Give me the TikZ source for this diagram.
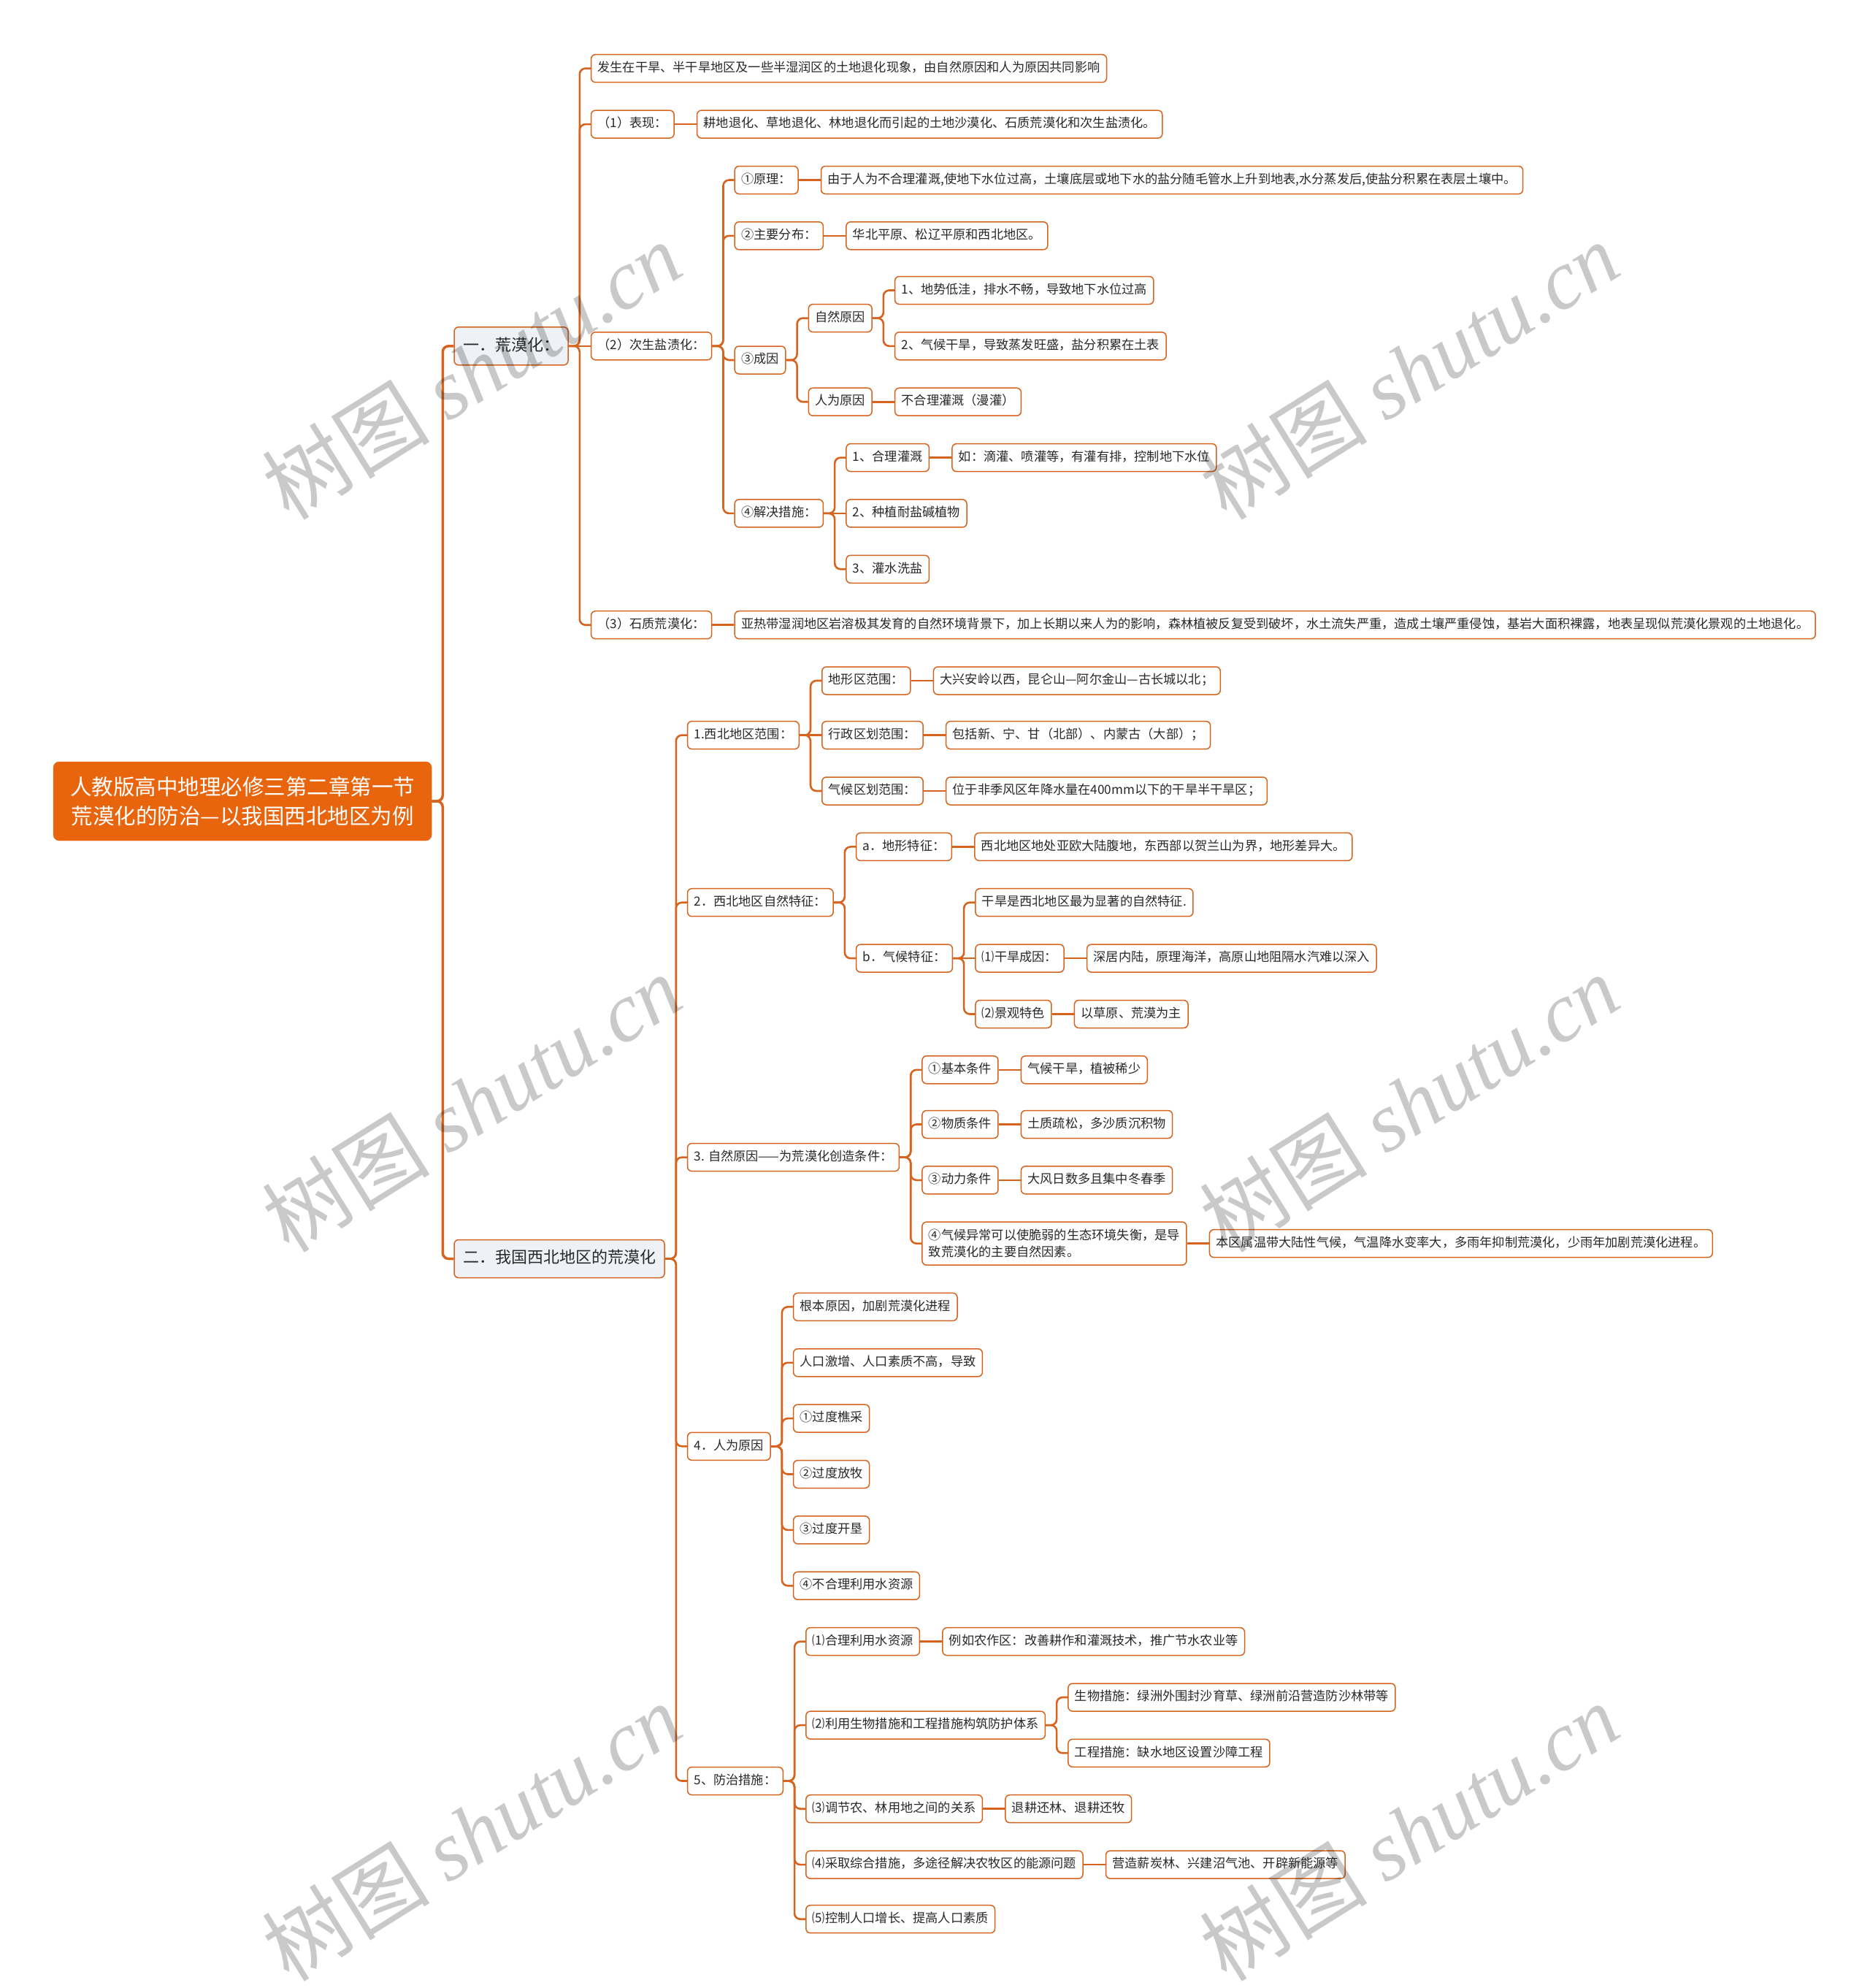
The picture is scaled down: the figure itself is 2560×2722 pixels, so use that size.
\documentclass[tikz,border=0pt]{standalone}
\usepackage{fontspec}
\setmainfont{Noto Sans CJK SC}
\newfontfamily\wmserif{Liberation Serif}
\definecolor{lineC}{RGB}{214,100,30}
\definecolor{rootC}{RGB}{232,101,14}
\definecolor{lvlC}{RGB}{238,241,246}
\definecolor{txtC}{RGB}{40,40,40}
\tikzset{
  basebox/.style={draw=lineC, line width=1.5pt, rounded corners=6pt, fill=white, text=txtC,
    font=\fontsize{17.2}{23}\selectfont, inner xsep=9pt, inner ysep=4pt, minimum height=38pt},
  sbox/.style={basebox, text height=13pt, text depth=3.5pt},
  lvl/.style={basebox, fill=lvlC, font=\fontsize{22}{26}\selectfont, inner xsep=12pt,
    minimum height=52pt, text height=17pt, text depth=4.5pt},
  rootbox/.style={fill=rootC, draw=rootC, rounded corners=8pt, text=white, align=center,
    font=\fontsize{29.5}{40}\selectfont, inner xsep=23pt, minimum height=108pt, anchor=west},
  conn/.style={draw=lineC, line width=2.6pt, rounded corners=8pt},
  connR/.style={conn, line width=3.5pt},
  wm/.style={text=black, text opacity=0.21, font=\fontsize{115}{115}\selectfont, rotate=32, inner sep=0pt}
}
\newcommand\mmkid[5][sbox]{%
  \path ([xshift=30pt]#3.east) coordinate (t#2);
  \node[#1, anchor=west] (#2) at (t#2 |- 0,#4) {#5};}
\newcommand\mmlink[3][conn]{\draw[#1] (#2.east) -- ++(15,0) |- (#3.west);}
\newcommand\mmstraight[3][conn]{\draw[#1] (#2.east) -- (#3.west);}
\begin{document}
\begin{tikzpicture}[x=1pt,y=-1pt]
\fill[white] (0,0) rectangle (2560,2722);
\useasboundingbox (0,0) rectangle (2560,2722);

\node[rootbox] (R) at (72.9,1097) {人教版高中地理必修三第二章第一节\\荒漠化的防治—以我国西北地区为例};

\mmkid[lvl]{L1}{R}{473.8}{一．荒漠化：}
\mmkid[lvl]{L2}{R}{1723.5}{二．我国西北地区的荒漠化}

% ---- section one
\mmkid{A1}{L1}{93.7}{发生在干旱、半干旱地区及一些半湿润区的土地退化现象，由自然原因和人为原因共同影响}
\mmkid{A2}{L1}{170.1}{（1）表现：}
\mmkid{A2a}{A2}{170.1}{耕地退化、草地退化、林地退化而引起的土地沙漠化、石质荒漠化和次生盐渍化。}
\mmkid{A3}{L1}{473.8}{（2）次生盐渍化：}
\mmkid{A4}{L1}{855.7}{（3）石质荒漠化：}
\mmkid{A4a}{A4}{855.7}{亚热带湿润地区岩溶极其发育的自然环境背景下，加上长期以来人为的影响，森林植被反复受到破坏，水土流失严重，造成土壤严重侵蚀，基岩大面积裸露，地表呈现似荒漠化景观的土地退化。}
\mmkid{B1}{A3}{246.5}{①原理：}
\mmkid{B1a}{B1}{246.5}{由于人为不合理灌溉,使地下水位过高，土壤底层或地下水的盐分随毛管水上升到地表,水分蒸发后,使盐分积累在表层土壤中。}
\mmkid{B2}{A3}{322.8}{②主要分布：}
\mmkid{B2a}{B2}{322.8}{华北平原、松辽平原和西北地区。}
\mmkid{B3}{A3}{493}{③成因}
\mmkid{B3a}{B3}{435.6}{自然原因}
\mmkid{B3b}{B3}{550.2}{人为原因}
\mmkid{B3a1}{B3a}{397.5}{1、地势低洼，排水不畅，导致地下水位过高}
\mmkid{B3a2}{B3a}{473.8}{2、气候干旱，导致蒸发旺盛，盐分积累在土表}
\mmkid{B3b1}{B3b}{550.2}{不合理灌溉（漫灌）}
\mmkid{B4}{A3}{702.9}{④解决措施：}
\mmkid{D1}{B4}{626.6}{1、合理灌溉}
\mmkid{D1a}{D1}{626.6}{如：滴灌、喷灌等，有灌有排，控制地下水位}
\mmkid{D2}{B4}{702.9}{2、种植耐盐碱植物}
\mmkid{D3}{B4}{779.3}{3、灌水洗盐}

% ---- section two
\mmkid{C1}{L2}{1006.6}{1.西北地区范围：}
\mmkid{E1}{C1}{932.0}{地形区范围：}
\mmkid{E1a}{E1}{932.0}{大兴安岭以西，昆仑山—阿尔金山—古长城以北；}
\mmkid{E2}{C1}{1006.6}{行政区划范围：}
\mmkid{E2a}{E2}{1006.6}{包括新、宁、甘（北部）、内蒙古（大部）；}
\mmkid{E3}{C1}{1083.0}{气候区划范围：}
\mmkid{E3a}{E3}{1083.0}{位于非季风区年降水量在400mm以下的干旱半干旱区；}

\mmkid{C2}{L2}{1235.7}{2．西北地区自然特征：}
\mmkid{Fa}{C2}{1159.4}{a．地形特征：}
\mmkid{Faa}{Fa}{1159.4}{西北地区地处亚欧大陆腹地，东西部以贺兰山为界，地形差异大。}
\mmkid{Fb}{C2}{1312.1}{b．气候特征：}
\mmkid{Fb1}{Fb}{1235.7}{干旱是西北地区最为显著的自然特征.}
\mmkid{Fb2}{Fb}{1312.1}{⑴干旱成因：}
\mmkid{Fb2a}{Fb2}{1312.1}{深居内陆，原理海洋，高原山地阻隔水汽难以深入}
\mmkid{Fb3}{Fb}{1388.5}{⑵景观特色}
\mmkid{Fb3a}{Fb3}{1388.5}{以草原、荒漠为主}

\mmkid{C3}{L2}{1584.6}{3. 自然原因——为荒漠化创造条件：}
\mmkid{G1}{C3}{1464.8}{①基本条件}
\mmkid{G1a}{G1}{1464.8}{气候干旱，植被稀少}
\mmkid{G2}{C3}{1539.5}{②物质条件}
\mmkid{G2a}{G2}{1539.5}{土质疏松，多沙质沉积物}
\mmkid{G3}{C3}{1615.8}{③动力条件}
\mmkid{G3a}{G3}{1615.8}{大风日数多且集中冬春季}
\mmkid[basebox, align=left, inner ysep=10pt]{G4}{C3}{1702.6}{④气候异常可以使脆弱的生态环境失衡，是导\\致荒漠化的主要自然因素。}
\mmkid{G4a}{G4}{1702.6}{本区属温带大陆性气候，气温降水变率大，多雨年抑制荒漠化，少雨年加剧荒漠化进程。}

\mmkid{C4}{L2}{1980.3}{4．人为原因}
\mmkid{H1}{C4}{1789.4}{根本原因，加剧荒漠化进程}
\mmkid{H2}{C4}{1865.8}{人口激增、人口素质不高，导致}
\mmkid{H3}{C4}{1942.1}{①过度樵采}
\mmkid{H4}{C4}{2018.5}{②过度放牧}
\mmkid{H5}{C4}{2094.9}{③过度开垦}
\mmkid{H6}{C4}{2171.2}{④不合理利用水资源}

\mmkid{C5}{L2}{2438.5}{5、防治措施：}
\mmkid{K1}{C5}{2247.6}{⑴合理利用水资源}
\mmkid{K1a}{K1}{2247.6}{例如农作区：改善耕作和灌溉技术，推广节水农业等}
\mmkid{K2}{C5}{2362.1}{⑵利用生物措施和工程措施构筑防护体系}
\mmkid{K2a}{K2}{2324.0}{生物措施：绿洲外围封沙育草、绿洲前沿营造防沙林带等}
\mmkid{K2b}{K2}{2400.3}{工程措施：缺水地区设置沙障工程}
\mmkid{K3}{C5}{2476.7}{⑶调节农、林用地之间的关系}
\mmkid{K3a}{K3}{2476.7}{退耕还林、退耕还牧}
\mmkid{K4}{C5}{2553.1}{⑷采取综合措施，多途径解决农牧区的能源问题}
\mmkid{K4a}{K4}{2553.1}{营造薪炭林、兴建沼气池、开辟新能源等}
\mmkid{K5}{C5}{2627.7}{⑸控制人口增长、提高人口素质}

% ---- connectors
\mmlink[connR]{R}{L1} \mmlink[connR]{R}{L2}
\mmlink{L1}{A1} \mmlink{L1}{A2} \mmstraight{L1}{A3} \mmlink{L1}{A4}
\mmstraight{A2}{A2a} \mmstraight{A4}{A4a}
\mmlink{A3}{B1} \mmlink{A3}{B2} \mmlink{A3}{B3} \mmlink{A3}{B4}
\mmstraight{B1}{B1a} \mmstraight{B2}{B2a}
\mmlink{B3}{B3a} \mmlink{B3}{B3b}
\mmlink{B3a}{B3a1} \mmlink{B3a}{B3a2} \mmstraight{B3b}{B3b1}
\mmlink{B4}{D1} \mmstraight{B4}{D2} \mmlink{B4}{D3} \mmstraight{D1}{D1a}

\mmlink{L2}{C1} \mmlink{L2}{C2} \mmlink{L2}{C3} \mmlink{L2}{C4} \mmlink{L2}{C5}
\mmlink{C1}{E1} \mmstraight{C1}{E2} \mmlink{C1}{E3}
\mmstraight{E1}{E1a} \mmstraight{E2}{E2a} \mmstraight{E3}{E3a}
\mmlink{C2}{Fa} \mmlink{C2}{Fb} \mmstraight{Fa}{Faa}
\mmlink{Fb}{Fb1} \mmstraight{Fb}{Fb2} \mmlink{Fb}{Fb3}
\mmstraight{Fb2}{Fb2a} \mmstraight{Fb3}{Fb3a}
\mmlink{C3}{G1} \mmlink{C3}{G2} \mmlink{C3}{G3} \mmlink{C3}{G4}
\mmstraight{G1}{G1a} \mmstraight{G2}{G2a} \mmstraight{G3}{G3a} \mmstraight{G4}{G4a}
\mmlink{C4}{H1} \mmlink{C4}{H2} \mmlink{C4}{H3} \mmlink{C4}{H4} \mmlink{C4}{H5} \mmlink{C4}{H6}
\mmlink{C5}{K1} \mmlink{C5}{K2} \mmlink{C5}{K3} \mmlink{C5}{K4} \mmlink{C5}{K5}
\mmstraight{K1}{K1a} \mmlink{K2}{K2a} \mmlink{K2}{K2b}
\mmstraight{K3}{K3a} \mmstraight{K4}{K4a}

% ---- watermarks
\foreach \wx/\wy [count=\i] in {646/507, 646/1510, 646/2508, 1930/507, 1930/1510, 1930/2508}
  \node[wm] (wm\i) at (\wx,\wy) {树图 {\wmserif\itshape shutu.cn}};
\end{tikzpicture}
\end{document}
